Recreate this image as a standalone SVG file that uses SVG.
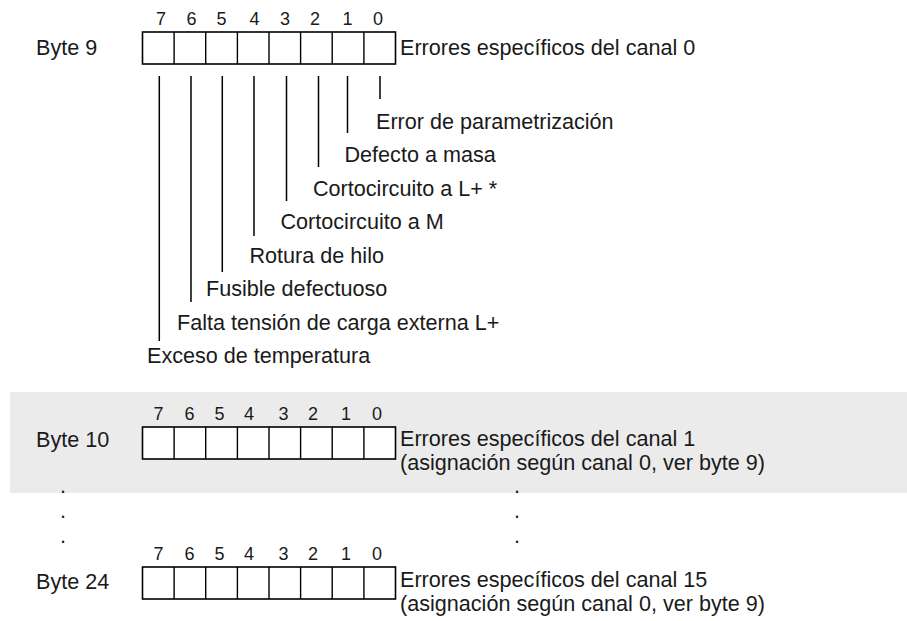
<svg xmlns="http://www.w3.org/2000/svg" width="907" height="621" viewBox="0 0 907 621">
<style>
text{font-family:"Liberation Sans",Arial,sans-serif;fill:#1a1a1a}
.t{font-size:21.6px}
.d{font-size:18px;text-anchor:middle}
.box{fill:#fff;stroke:#000;stroke-width:1.6}
.cell{stroke:#000;stroke-width:1.4}
.ld{stroke:#000;stroke-width:1.5;fill:none}
</style>
<defs>
<g id="reg">
<rect class="box" x="0" y="0" width="253" height="32"/>
<path class="cell" d="M31.6 0V32M63.2 0V32M94.9 0V32M126.5 0V32M158.1 0V32M189.7 0V32M221.4 0V32"/>
</g>
</defs>
<rect x="10" y="392" width="897" height="101" fill="#ebebeb"/>
<g id="byte9">
<text class="d" x="161" y="25">7</text><text class="d" x="191.5" y="25">6</text><text class="d" x="221.5" y="25">5</text><text class="d" x="254.5" y="25">4</text><text class="d" x="285" y="25">3</text><text class="d" x="315" y="25">2</text><text class="d" x="347.5" y="25">1</text><text class="d" x="378" y="25">0</text>
<text class="t" x="36" y="55">Byte 9</text>
<use href="#reg" x="142.5" y="32"/>
<text class="t" x="400" y="54.5">Errores específicos del canal 0</text>
</g>
<g id="connectors">
<path class="ld" d="M380 76V99M347.5 76V133M318.5 76V167M286.5 76V201M254 76V236M222.3 76V272M191 76V302M159.3 76V341"/>
</g>
<g id="labels">
<text class="t" x="376" y="128.5">Error de parametrización</text>
<text class="t" x="344.5" y="162">Defecto a masa</text>
<text class="t" x="313" y="195.5">Cortocircuito a L+ *</text>
<text class="t" x="280.5" y="229">Cortocircuito a M</text>
<text class="t" x="249.5" y="262.5">Rotura de hilo</text>
<text class="t" x="206" y="296">Fusible defectuoso</text>
<text class="t" x="177" y="330">Falta tensión de carga externa L+</text>
<text class="t" x="147" y="362.5">Exceso de temperatura</text>
</g>
<g id="byte10">
<text class="d" x="158.5" y="420">7</text><text class="d" x="189.5" y="420">6</text><text class="d" x="219.5" y="420">5</text><text class="d" x="249" y="420">4</text><text class="d" x="283.5" y="420">3</text><text class="d" x="313" y="420">2</text><text class="d" x="346" y="420">1</text><text class="d" x="377" y="420">0</text>
<text class="t" x="36" y="447">Byte 10</text>
<use href="#reg" x="142.5" y="427"/>
<text class="t" x="400" y="445.5">Errores específicos del canal 1</text>
<text class="t" x="400" y="470.2">(asignación según canal 0, ver byte 9)</text>
</g>
<g id="dots">
<text class="t" x="60" y="493">.</text><text class="t" x="60" y="517.5">.</text><text class="t" x="60" y="542.5">.</text>
<text class="t" x="514" y="493">.</text><text class="t" x="514" y="517.5">.</text><text class="t" x="514" y="542.5">.</text>
</g>
<g id="byte24">
<text class="d" x="158.5" y="560">7</text><text class="d" x="189.5" y="560">6</text><text class="d" x="219.5" y="560">5</text><text class="d" x="249" y="560">4</text><text class="d" x="283.5" y="560">3</text><text class="d" x="313" y="560">2</text><text class="d" x="346" y="560">1</text><text class="d" x="377" y="560">0</text>
<text class="t" x="36" y="589">Byte 24</text>
<use href="#reg" x="142.5" y="567"/>
<text class="t" x="400" y="586.5">Errores específicos del canal 15</text>
<text class="t" x="400" y="611.2">(asignación según canal 0, ver byte 9)</text>
</g>
</svg>
